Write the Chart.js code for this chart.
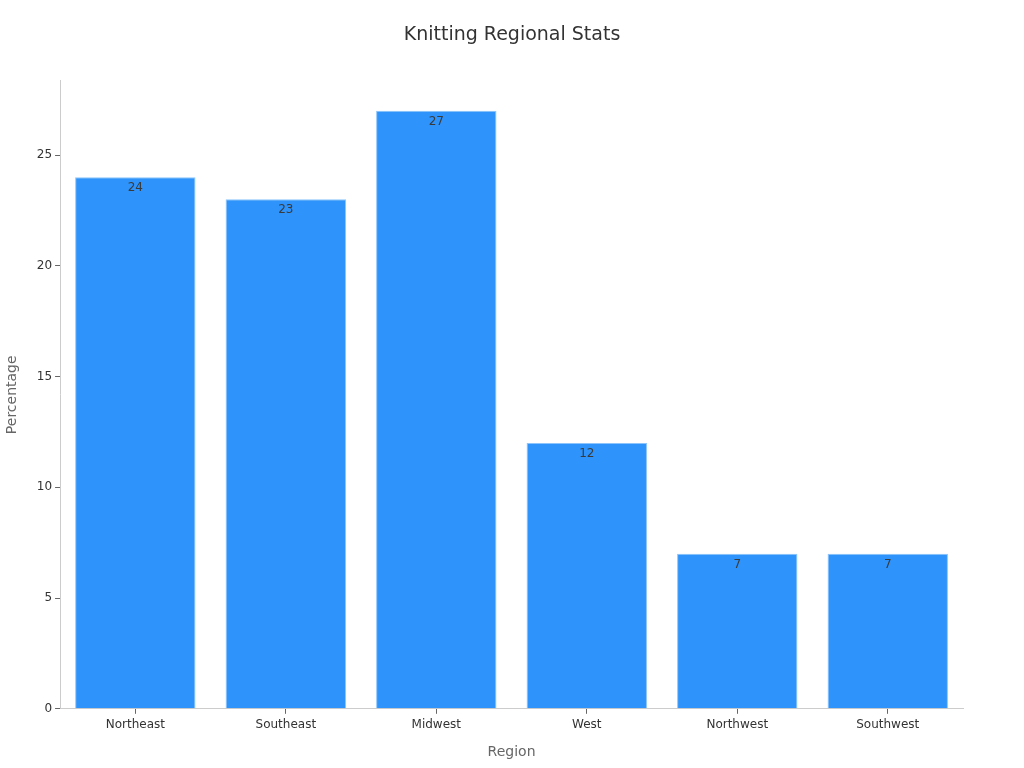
<!DOCTYPE html>
<html>
<head>
<meta charset="utf-8">
<script src="https://cdn.jsdelivr.net/npm/chart.js@4"></script>
<style>
  html, body { margin: 0; padding: 0; background: #fff; }
  #wrap { width: 1024px; height: 768px; }
</style>
</head>
<body>
<div id="wrap"><canvas id="chart" width="1024" height="768"></canvas></div>
<script>
const regions = ["Northeast", "Southeast", "Midwest", "West", "Northwest", "Southwest"];
const percentages = [24, 23, 27, 12, 7, 7];
const yTicks = [0, 5, 10, 15, 20, 25];

// draws the value just inside the top of each bar
const valueLabels = {
    id: 'valueLabels',
    afterDatasetsDraw(chart) {
        const ctx = chart.ctx;
        const meta = chart.getDatasetMeta(0);
        ctx.save();
        ctx.font = '12px "DejaVu Sans"';
        ctx.fillStyle = '#3a3a3a';
        ctx.textAlign = 'center';
        ctx.textBaseline = 'top';
        meta.data.forEach((bar, i) => {
            ctx.fillText(String(percentages[i]), bar.x, bar.y + 5);
        });
        ctx.restore();
    }
};

const ctx = document.getElementById("chart");
new Chart(ctx, {
    type: 'bar',
    data: {
        labels: regions,
        datasets: [{
            data: percentages,
            backgroundColor: '#2e93fa',
            borderColor: '#8cc4fb',
            borderWidth: 1,
            barPercentage: 0.8,
            categoryPercentage: 1.0
        }]
    },
    options: {
        responsive: false,
        animation: false,
        layout: {
            padding: { left: 0, right: 0, top: 10, bottom: 3 }
        },
        plugins: {
            legend: { display: false },
            tooltip: { enabled: false },
            title: {
                display: true,
                text: 'Knitting Regional Stats',
                color: '#333',
                font: { family: 'DejaVu Sans', size: 19, weight: 'normal' },
                padding: { top: 14, bottom: 34 }
            }
        },
        scales: {
            x: {
                grid: { display: true, offset: false, drawOnChartArea: false, drawTicks: true, tickLength: 5, color: '#666' },
                border: { display: true, color: '#ccc' },
                ticks: {
                    color: '#333',
                    font: { family: 'DejaVu Sans', size: 12 },
                    padding: 4
                },
                title: {
                    display: true,
                    text: 'Region',
                    color: '#666',
                    font: { family: 'DejaVu Sans', size: 14 },
                    padding: { top: 8 }
                }
            },
            y: {
                min: 0,
                max: 28.35,
                afterBuildTicks(axis) {
                    axis.ticks = yTicks.map(v => ({ value: v }));
                },
                grid: { display: true, drawOnChartArea: false, drawTicks: true, tickLength: 5, color: '#666' },
                border: { display: true, color: '#ccc' },
                ticks: {
                    color: '#333',
                    font: { family: 'DejaVu Sans', size: 12 },
                    padding: 3
                },
                title: {
                    display: true,
                    text: 'Percentage',
                    color: '#666',
                    font: { family: 'DejaVu Sans', size: 14 },
                    padding: { bottom: 13 }
                }
            },
            // empty right-hand strip so the plot ends where the reference does
            gap: {
                position: 'right',
                display: true,
                grid: { display: false },
                border: { display: false },
                ticks: { display: false },
                afterFit(axis) { axis.width = 61; }
            }
        }
    },
    plugins: [valueLabels]
});
</script>
</body>
</html>
